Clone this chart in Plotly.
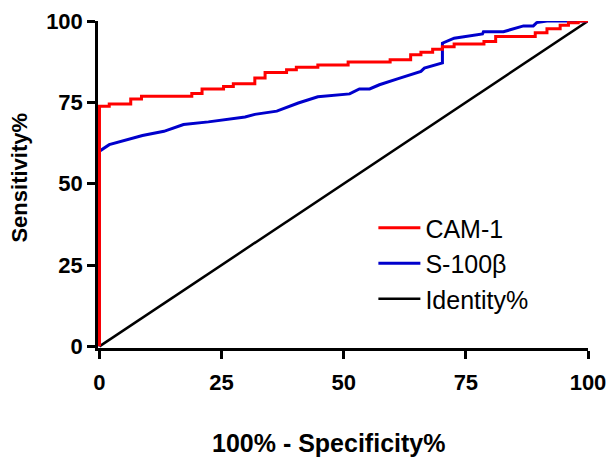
import plotly.graph_objects as go

# CAM-1 ROC (step curve)
cam_x = [0, 0, 2.0, 6.4, 8.6, 18.9, 21.0, 25.4, 27.4, 31.8, 33.9, 38.3, 40.3, 44.7,
         50.9, 59.5, 63.7, 65.8, 68.2, 70.2, 72.6, 78.7, 81.1, 89.2, 91.6, 94.3,
         96.0, 98.0, 100]
cam_y = [0, 73.8, 74.5, 76.0, 76.9, 77.7, 79.1, 79.9, 80.7, 82.5, 84.2, 85.0, 85.8,
         86.5, 87.4, 88.1, 89.6, 90.4, 91.3, 92.1, 92.9, 93.7, 95.2, 96.4, 97.6,
         98.7, 99.5, 100, 100]

# S-100beta ROC
s100_x = [0, 0, 2.0, 5.4, 8.8, 13.2, 17.2, 22.3, 29.8, 31.8, 36.3, 40.7, 44.7, 51.2,
          53.2, 55.3, 57.3, 61.0, 65.8, 66.5, 70.2, 70.2, 72.6, 78.4, 78.6, 82.7,
          86.8, 88.8, 89.5, 91.6, 100]
s100_y = [0, 60.0, 62.0, 63.5, 64.8, 66.1, 68.2, 69.0, 70.5, 71.3, 72.3, 74.8, 76.7,
          77.6, 79.1, 79.1, 80.4, 82.2, 84.5, 85.5, 87.1, 93.2, 94.7, 96.0, 96.7,
          96.7, 98.5, 98.5, 99.5, 100, 100]

# Identity line
id_x = [0, 100]
id_y = [0, 100]

tick_vals = [0, 25, 50, 75, 100]
tick_text = ["0", "25", "50", "75", "100"]

FONT = "Liberation Sans, Arial, sans-serif"

fig = go.Figure()
fig.add_trace(go.Scatter(x=id_x, y=id_y, mode="lines", name="Identity%",
                         line=dict(color="#000000", width=2.5),
                         legendgroup="c", legendrank=3))
fig.add_trace(go.Scatter(x=s100_x, y=s100_y, mode="lines", name="S-100β",
                         line=dict(color="#0000cc", width=3),
                         legendgroup="b", legendrank=2))
fig.add_trace(go.Scatter(x=cam_x, y=cam_y, mode="lines", name="CAM-1",
                         line=dict(color="#ff0000", width=3, shape="hv"),
                         legendgroup="a", legendrank=1))

axis_common = dict(
    showgrid=False, zeroline=False, showline=True, linecolor="black", linewidth=2.5,
    ticks="outside", ticklen=8, tickwidth=2.5, tickcolor="black",
    tickvals=tick_vals, ticktext=tick_text,
    tickfont=dict(family=FONT, size=22, color="black", weight="bold"),
    layer="below traces", automargin=False,
)

fig.update_layout(
    width=608, height=457,
    margin=dict(l=98, r=20, t=21, b=109),
    paper_bgcolor="white", plot_bgcolor="white",
    xaxis=dict(range=[-0.3, 100], ticklabelstandoff=5, **axis_common),
    yaxis=dict(range=[-0.5, 100], **axis_common),
    showlegend=True,
    legend=dict(x=0.562, y=0.437, xanchor="left", yanchor="top",
                traceorder="grouped", tracegroupgap=0, itemwidth=42,
                font=dict(family=FONT, size=25, color="black"),
                bgcolor="rgba(0,0,0,0)"),
    annotations=[
        dict(text="<b>100% - Specificity%</b>", x=0.47, y=-0.29, xref="paper", yref="paper",
             xanchor="center", yanchor="middle", showarrow=False,
             font=dict(family=FONT, size=25, color="black")),
        dict(text="<b>Sensitivity%</b>", x=-0.16, y=0.52, xref="paper", yref="paper",
             xanchor="center", yanchor="middle", showarrow=False, textangle=-90,
             font=dict(family=FONT, size=22, color="black")),
    ],
)

fig.write_html("out.html")
